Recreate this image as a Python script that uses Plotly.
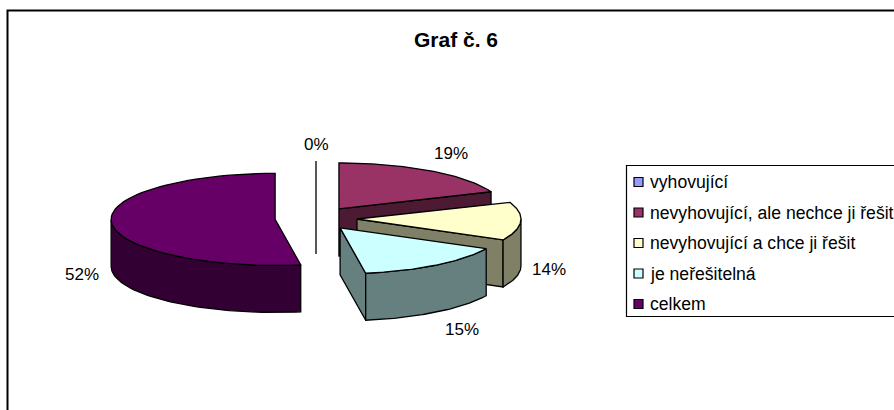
import numpy as np
import plotly.graph_objects as go

# Data
categories = ["vyhovující", "nevyhovující, ale nechce ji řešit", "nevyhovující a chce ji řešit", "je neřešitelná", "celkem"]
shares = [0.0, 18.9, 13.6, 15.0, 52.49]
title_text = "Graf č. 6"

# Styling
top_colors = ["#9999FF", "#993366", "#FFFFCC", "#CCFFFF", "#660066"]
side_colors = ["#4D4D80", "#4D1A33", "#808066", "#668080", "#330033"]
FONT = "Liberation Sans, Arial, sans-serif"
TEXT = "#000000"
LINE = 1.3

# Pie projection, in layout pixels
W, H = 894, 410
CX, CY, RX, RY, DEPTH, EXPLODE = 316, 218.5, 164, 46, 47, 41
LABEL_GAP = 1.17
LABEL_NUDGE = [(0, -1), (5, -3), (0, 1), (9, 11), (-2, 4)]


def rim(theta_deg, ox, oy, dz=0.0):
    t = np.radians(theta_deg)
    return ox + RX * np.sin(t), oy - RY * np.cos(t) + dz


def poly(fig, xs, ys, color):
    fig.add_trace(go.Scatter(
        x=list(xs), y=list(ys), mode="lines", fill="toself", fillcolor=color,
        line=dict(color="#000000", width=LINE), hoverinfo="skip", showlegend=False,
    ))


fig = go.Figure()
total = sum(shares)
start = 0.0
annotations = []
for name, value, top, side, nudge in zip(categories, shares, top_colors, side_colors, LABEL_NUDGE):
    end = start + value / total * 360.0
    mid = (start + end) / 2
    m = np.radians(mid)
    ox = CX + EXPLODE * np.sin(m)
    oy = CY - EXPLODE * RY / RX * np.cos(m)
    arc = np.linspace(start, end, 60)

    # cut face at the end of the slice
    if value == 0 or np.sin(np.radians(end)) > 1e-6:
        ex, ey = rim(end, ox, oy)
        poly(fig, [ox, ex, ex, ox, ox], [oy, ey, ey + DEPTH, oy + DEPTH, oy], side)
    # outer wall on the front half of the ellipse
    lo, hi = max(start, 90), min(end, 270)
    if hi > lo:
        wall = np.linspace(lo, hi, 60)
        wx, wy = rim(wall, ox, oy)
        poly(fig, np.r_[wx, wx[::-1], wx[0]], np.r_[wy, wy[::-1] + DEPTH, wy[0]], side)
    # top face
    ax, ay = rim(arc, ox, oy)
    if value > 0:
        poly(fig, np.r_[ox, ax, ox], np.r_[oy, ay, oy], top)

    # percent label outside the slice
    lx, ly = rim(mid, ox, oy)
    lx = ox + (lx - ox) * LABEL_GAP + nudge[0]
    ly = oy + (ly - oy) * LABEL_GAP - 8 + nudge[1]
    if np.cos(m) < 0:
        ly = ly + DEPTH + 8
    annotations.append(dict(x=lx, y=ly, xref="x", yref="y", text=f"{round(value / total * 100)}%",
                            showarrow=False, font=dict(family=FONT, size=17, color=TEXT)))
    start = end

# Legend, built from the categories
LEG_X, LEG_TOP, LEG_BOTTOM = 626.5, 165.5, 316.5
step = (LEG_BOTTOM - LEG_TOP - 29) / (len(categories) - 1)
leg_y = [LEG_TOP + 16.5 + i * step for i in range(len(categories))]
fig.add_trace(go.Scatter(
    x=[LEG_X + 12] * len(categories), y=leg_y, mode="markers",
    marker=dict(symbol="square", size=9, color=top_colors, line=dict(color="#000000", width=1.2)),
    hoverinfo="skip", showlegend=False,
))
for label, y in zip(categories, leg_y):
    annotations.append(dict(x=LEG_X + 21, y=y, xref="x", yref="y", text=label, showarrow=False,
                            xanchor="left", font=dict(family=FONT, size=17.6, color=TEXT)))

shapes = [
    dict(type="path", path=f"M 7.5 {H} L 7.5 10.5 L {W} 10.5", xref="x", yref="y",
         line=dict(color="#000000", width=2)),
    dict(type="path", path=f"M {W} {LEG_TOP} L {LEG_X} {LEG_TOP} L {LEG_X} {LEG_BOTTOM} L {W} {LEG_BOTTOM}",
         xref="x", yref="y", line=dict(color="#000000", width=1.2)),
]
annotations.append(dict(x=456, y=39.5, xref="x", yref="y", text=f"<b>{title_text}</b>", showarrow=False,
                        font=dict(family=FONT, size=21, color=TEXT)))

fig.update_layout(
    width=W, height=H, margin=dict(l=0, r=0, t=0, b=0),
    paper_bgcolor="#FFFFFF", plot_bgcolor="#FFFFFF",
    xaxis=dict(range=[0, W], visible=False, fixedrange=True),
    yaxis=dict(range=[H, 0], visible=False, fixedrange=True),
    shapes=shapes, annotations=annotations, showlegend=False,
)
fig.write_html("out.html", config=dict(displayModeBar=False),
               post_script="document.body.style.margin='0';document.body.style.overflow='hidden';")
